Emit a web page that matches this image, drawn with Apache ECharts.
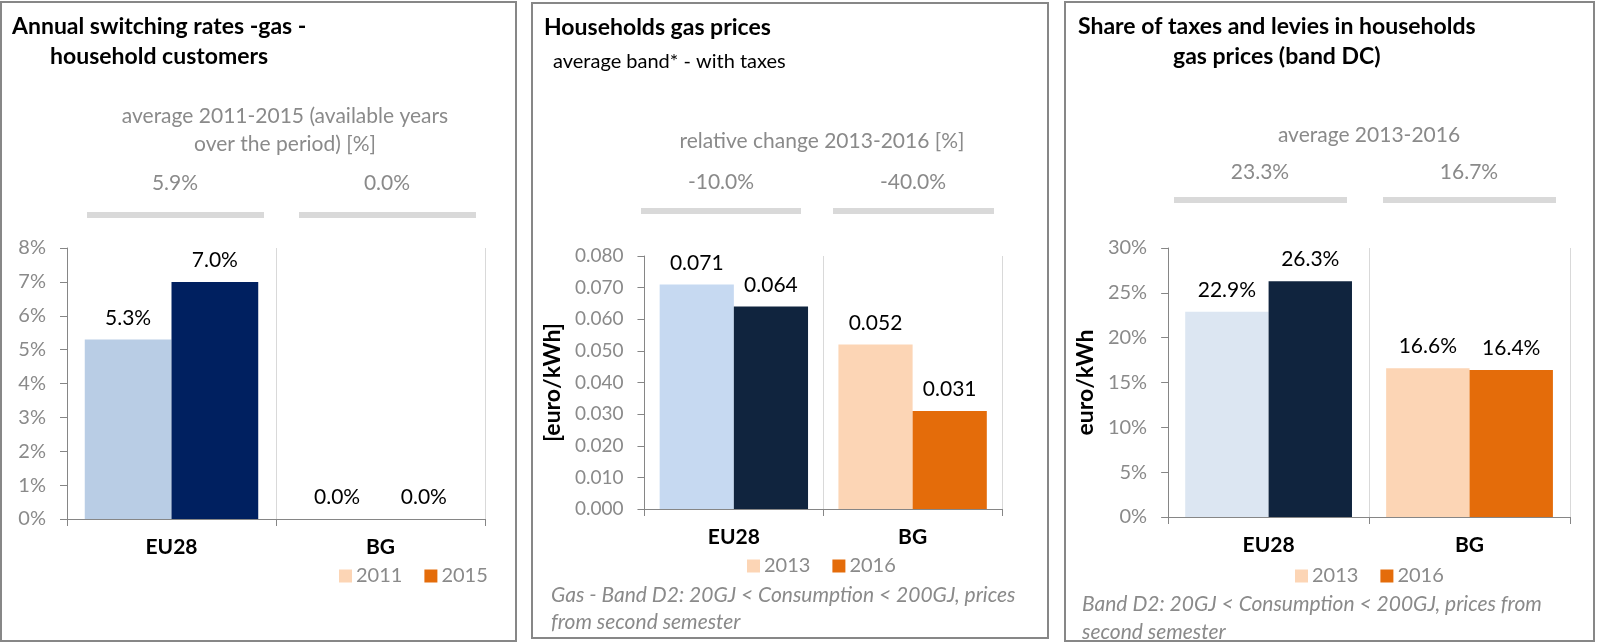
<!DOCTYPE html>
<html>
<head>
    <meta charset="UTF-8">
    <title>Gas - EU28 / BG</title>
    <script src="https://cdn.jsdelivr.net/npm/echarts@6/dist/echarts.min.js"></script>
    <style>
        body {
            margin: 0;
            background: #fff;
        }

        .panel {
            position: absolute;
            box-sizing: border-box;
            border: 2px solid #878787;
            background: #fff;
        }
    </style>
</head>
<body>
<div id="p1" class="panel" style="left:0;top:1px;width:517px;height:641px;"></div>
<div id="p2" class="panel" style="left:531px;top:2px;width:518px;height:637px;"></div>
<div id="p3" class="panel" style="left:1064px;top:1px;width:531px;height:641px;"></div>
<script>
    // data
    var categories = ['EU28', 'BG'];

    // switching rates [%]
    var switchYears = ['2011', '2015'];
    var switch2011 = [5.3, 0.0];
    var switch2015 = [7.0, 0.0];
    var switchAvg = [5.9, 0.0];

    // gas prices [euro/kWh]
    var priceYears = ['2013', '2016'];
    var price2013 = [0.071, 0.052];
    var price2016 = [0.064, 0.031];
    var priceChange = [-10.0, -40.0];

    // share of taxes [%]
    var taxYears = ['2013', '2016'];
    var tax2013 = [22.9, 16.6];
    var tax2016 = [26.3, 16.4];
    var taxAvg = [23.3, 16.7];

    var FONT = 'Lato, "Open Sans", sans-serif';
    var GREY = '#868686';
    var TXT_GREY = '#8a8a8a';
    var ORANGE_LIGHT = '#fcd5b5';
    var ORANGE = '#e46c0a';

    function txt(text, x, y, size, opts) {
        opts = opts || {};
        return {
            type: 'text',
            silent: true,
            style: {
                text: text,
                x: x,
                y: y,
                fill: opts.color || '#000',
                font: (opts.italic ? 'italic ' : '') + (opts.bold ? 'bold ' : '') + size + 'px ' + FONT,
                textAlign: opts.align || 'left',
                textVerticalAlign: 'middle'
            }
        };
    }

    function greyBar(x, y, w) {
        return {
            type: 'rect',
            silent: true,
            shape: {x: x, y: y - 3, width: w, height: 6},
            style: {fill: '#d9d9d9'}
        };
    }

    // EU28 bars keep the blue shades, the series colour (legend) is orange
    function colored(values, euColor) {
        return values.map(function (v, i) {
            return i === 0 ? {value: v, itemStyle: {color: euColor}} : v;
        });
    }

    function buildOption(cfg) {
        var label = {
            show: true,
            position: 'top',
            distance: 11,
            color: '#000',
            fontSize: 21,
            fontFamily: FONT,
            formatter: function (p) {
                return cfg.fmt(p.value);
            }
        };
        return {
            animation: false,
            textStyle: {fontFamily: FONT},
            grid: cfg.grid,
            legend: {
                data: cfg.years,
                left: cfg.legendLeft,
                top: cfg.legendTop,
                padding: 0,
                icon: 'rect',
                itemWidth: 13,
                itemHeight: 13,
                itemGap: 22,
                selectedMode: false,
                textStyle: {color: TXT_GREY, fontSize: 20, fontFamily: FONT, padding: [0, 0, 0, -1]}
            },
            xAxis: {
                type: 'category',
                data: categories,
                axisLine: {lineStyle: {color: GREY, width: 1}},
                axisTick: {show: true, length: 7, lineStyle: {color: GREY}},
                axisLabel: {color: '#000', fontWeight: 'bold', fontSize: 21, fontFamily: FONT, margin: 18},
                splitLine: {show: true, lineStyle: {color: '#d9d9d9'}}
            },
            yAxis: {
                type: 'value',
                min: 0,
                max: cfg.max,
                interval: cfg.interval,
                name: cfg.yName || '',
                nameLocation: 'middle',
                nameRotate: 90,
                nameGap: cfg.nameGap || 0,
                nameTextStyle: {color: '#000', fontWeight: 'bold', fontSize: 23, fontFamily: FONT},
                axisLine: {show: true, lineStyle: {color: GREY, width: 1}},
                axisTick: {show: true, length: 7, lineStyle: {color: GREY}},
                axisLabel: {color: TXT_GREY, fontSize: cfg.tickSize || 20, fontFamily: FONT, margin: 21, formatter: cfg.tickFmt},
                splitLine: {show: false}
            },
            series: [
                {
                    name: cfg.years[0],
                    type: 'bar',
                    barGap: '0%',
                    barCategoryGap: '17%',
                    itemStyle: {color: ORANGE_LIGHT},
                    label: label,
                    data: colored(cfg.a, cfg.euA)
                },
                {
                    name: cfg.years[1],
                    type: 'bar',
                    barGap: '0%',
                    barCategoryGap: '17%',
                    itemStyle: {color: ORANGE},
                    label: label,
                    data: colored(cfg.b, cfg.euB)
                }
            ],
            graphic: cfg.graphic
        };
    }

    function pct1(v) {
        return v.toFixed(1) + '%';
    }

    // panel 1 - switching rates
    var c1 = echarts.init(document.getElementById('p1'));
    c1.setOption(buildOption({
        grid: {left: 65, top: 245, width: 418, height: 271},
        years: switchYears,
        a: switch2011,
        b: switch2015,
        euA: '#b9cde5',
        euB: '#002060',
        max: 8,
        interval: 1,
        tickFmt: '{value}%',
        fmt: pct1,
        legendLeft: 337,
        legendTop: 563,
        graphic: [
            txt('Annual switching rates -gas -', 10, 24, 23, {bold: true}),
            txt('household customers', 48, 54, 23, {bold: true}),
            txt('average 2011-2015 (available years', 283, 113, 21, {color: TXT_GREY, align: 'center'}),
            txt('over the period) [%]', 283, 141, 21, {color: TXT_GREY, align: 'center'}),
            txt(pct1(switchAvg[0]), 173, 180, 21, {color: TXT_GREY, align: 'center'}),
            txt(pct1(switchAvg[1]), 385, 180, 21, {color: TXT_GREY, align: 'center'}),
            greyBar(85, 212, 177),
            greyBar(297, 212, 177)
        ]
    }));

    // panel 2 - gas prices
    var c2 = echarts.init(document.getElementById('p2'));
    c2.setOption(buildOption({
        grid: {left: 102, top: 252, width: 367, height: 253},
        years: priceYears,
        a: price2013,
        b: price2016,
        euA: '#c6d9f1',
        euB: '#10243e',
        max: 0.08,
        interval: 0.01,
        tickSize: 19,
        tickFmt: function (v) {
            return v.toFixed(3);
        },
        fmt: function (v) {
            return v.toFixed(3);
        },
        yName: '[euro/kWh]',
        nameGap: 74,
        legendLeft: 214,
        legendTop: 552,
        graphic: [
            txt('Households gas prices', 11, 24, 23, {bold: true}),
            txt('average band* - with taxes', 20, 58, 20),
            txt('relative change 2013-2016 [%]', 289, 137, 21, {color: TXT_GREY, align: 'center'}),
            txt(pct1(priceChange[0]), 188, 178, 21, {color: TXT_GREY, align: 'center'}),
            txt(pct1(priceChange[1]), 380, 178, 21, {color: TXT_GREY, align: 'center'}),
            greyBar(108, 207, 160),
            greyBar(300, 207, 161),
            txt('Gas - Band D2: 20GJ < Consumption < 200GJ, prices', 18, 591, 21, {color: TXT_GREY, italic: true}),
            txt('from second semester', 18, 618, 21, {color: TXT_GREY, italic: true})
        ]
    }));

    // panel 3 - share of taxes and levies
    var c3 = echarts.init(document.getElementById('p3'));
    c3.setOption(buildOption({
        grid: {left: 100, top: 245, width: 404, height: 269},
        years: taxYears,
        a: tax2013,
        b: tax2016,
        euA: '#dce6f2',
        euB: '#10243e',
        max: 30,
        interval: 5,
        tickFmt: '{value}%',
        fmt: pct1,
        yName: 'euro/kWh',
        nameGap: 64,
        legendLeft: 229,
        legendTop: 563,
        graphic: [
            txt('Share of taxes and levies in households', 12, 24, 23, {bold: true}),
            txt('gas prices (band DC)', 107, 54, 23, {bold: true}),
            txt('average 2013-2016', 303, 132, 21, {color: TXT_GREY, align: 'center'}),
            txt(pct1(taxAvg[0]), 194, 169, 21, {color: TXT_GREY, align: 'center'}),
            txt(pct1(taxAvg[1]), 403, 169, 21, {color: TXT_GREY, align: 'center'}),
            greyBar(108, 197, 173),
            greyBar(317, 197, 173),
            txt('Band D2: 20GJ < Consumption < 200GJ, prices from', 16, 601, 21, {color: TXT_GREY, italic: true}),
            txt('second semester', 16, 629, 21, {color: TXT_GREY, italic: true})
        ]
    }));
</script>
</body>
</html>
